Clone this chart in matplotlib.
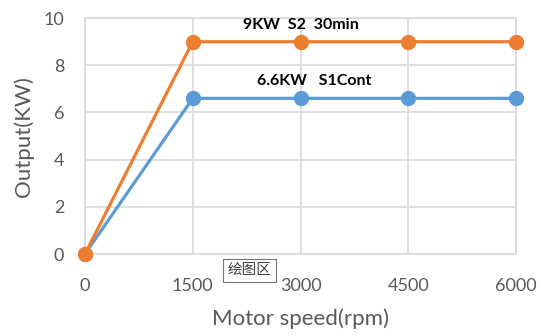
import matplotlib
matplotlib.use("Agg")
from matplotlib import pyplot as plt

# Motor output curves
speeds = ["0", "1500", "3000", "4500", "6000"]
s1_cont = [0, 6.6, 6.6, 6.6, 6.6]
s2_30min = [0, 9, 9, 9, 9]
s1_label = "6.6KW   S1Cont"
s2_label = "9KW  S2  30min"

plt.rcParams['font.family'] = ['Lato', 'DejaVu Sans']

fig = plt.figure(figsize=(5.41, 3.36), dpi=100)
ax = fig.add_axes([0.157, 0.244, 0.797, 0.702])

x = list(range(len(speeds)))
ax.plot(x, s1_cont, color="#5B9BD5", lw=2.3, marker="o", ms=10, clip_on=False, zorder=3)
ax.plot(x, s2_30min, color="#ED7D31", lw=2.3, marker="o", ms=10, clip_on=False, zorder=4)

ax.set_xlim(0, len(speeds) - 1)
ax.set_ylim(0, 10)
ax.set_xticks(x)
ax.set_xticklabels(speeds)
ax.set_yticks(range(0, 11, 2))
ax.grid(True, color="#D9D9D9", lw=1.2)
ax.set_axisbelow(True)
for s in ax.spines.values():
    s.set_color("#D9D9D9")
    s.set_linewidth(1.2)
ax.tick_params(length=0, labelsize=13, colors="#595959")
ax.tick_params(axis="x", pad=17)
ax.tick_params(axis="y", pad=15)

ax.set_xlabel("Motor speed(rpm)", fontsize=16, color="#595959", labelpad=11)
ax.set_ylabel("Output(KW)", fontsize=16, color="#595959", labelpad=7)

# series labels
ax.text(2.0, s2_30min[2] + 0.42, s2_label, ha="center", va="bottom",
        fontsize=11.5, fontweight="bold")
ax.text(2.13, s1_cont[2] + 0.42, s1_label, ha="center", va="bottom",
        fontsize=11.5, fontweight="bold")

# hover tip
fig.text(0.461, 0.196, "绘图区", ha="center", va="center", fontsize=10.5,
         color="#404040", family=["Noto Sans CJK SC", "DejaVu Sans"],
         bbox=dict(boxstyle="square,pad=0.3", fc="white", ec="#767676", lw=0.8))

fig.savefig("out.png", dpi=100)
